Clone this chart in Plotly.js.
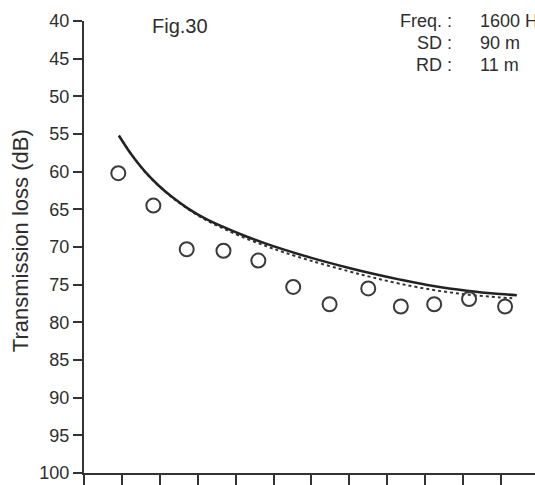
<!DOCTYPE html>
<html>
<head>
<meta charset="utf-8">
<script src="https://cdn.plot.ly/plotly-3.0.1.min.js"></script>
<style>html,body{margin:0;padding:0;background:#fff;}#chart{width:535px;height:485px;}</style>
</head>
<body>
<div id="chart"></div>
<script>
// Measured transmission loss (open circles)
var measRange = [0.905, 1.83, 2.71, 3.68, 4.60, 5.52, 6.48, 7.50, 8.36, 9.24, 10.16, 11.11];
var measTL    = [60.2, 64.5, 70.3, 70.5, 71.8, 75.3, 77.6, 75.5, 77.9, 77.6, 76.9, 77.9];

// Model curve 1 (solid)
var solidRange = [0.92, 1.26, 1.61, 1.96, 2.31, 2.75, 3.19, 3.63, 4.20, 4.80, 5.26, 6.00, 6.97, 7.60, 8.34, 9.22, 10.10, 10.98, 11.42];
var solidTL    = [55.2, 57.8, 60.0, 61.8, 63.3, 64.9, 66.2, 67.24, 68.44, 69.55, 70.32, 71.44, 72.75, 73.52, 74.33, 75.18, 75.8, 76.24, 76.4];

// Model curve 2 (dotted)
var dotRange = [0.92, 1.61, 2.31, 2.75, 3.19, 3.63, 4.20, 4.80, 5.26, 6.00, 6.97, 7.60, 8.34, 9.22, 10.10, 10.98, 11.30];
var dotTL    = [55.25, 60.03, 63.35, 64.98, 66.35, 67.44, 68.71, 69.87, 70.68, 71.84, 73.2, 74.02, 74.88, 75.7, 76.3, 76.7, 76.8];

var yTicks = [40, 45, 50, 55, 60, 65, 70, 75, 80, 85, 90, 95, 100];
var xTicks = [0, 1, 2, 3, 4, 5, 6, 7, 8, 9, 10, 11];

var yTitle = 'Transmission loss (dB)';
var figLabel = 'Fig.30';
var infoLabels = ['Freq. :', 'SD :', 'RD :'];
var infoValues = ['1600 Hz', '90 m', '11 m'];
var infoRows   = [40.05, 42.95, 45.9];

var font = 'Liberation Sans, Arial, Helvetica, sans-serif';
var ink = '#2e2e2e';

var traces = [
  {x: dotRange, y: dotTL, mode: 'lines', line: {color: '#333', width: 2, dash: 'dot', shape: 'spline'}, hoverinfo: 'skip'},
  {x: solidRange, y: solidTL, mode: 'lines', line: {color: '#222', width: 2.5, shape: 'spline'}, hoverinfo: 'skip'},
  {x: measRange, y: measTL, mode: 'markers', marker: {symbol: 'circle-open', size: 14, color: '#3a3a3a', line: {width: 2, color: '#3a3a3a'}}}
];

var annotations = [{
  x: 1.75, y: 40.6, xref: 'x', yref: 'y', text: figLabel, showarrow: false,
  xanchor: 'left', yanchor: 'middle', font: {family: font, size: 20, color: ink}
}, {
  x: -0.142, y: 0.515, xref: 'paper', yref: 'paper', text: yTitle, showarrow: false, textangle: -90,
  xanchor: 'center', yanchor: 'middle', font: {family: font, size: 22, color: ink}
}];
for (var i = 0; i < infoLabels.length; i++) {
  annotations.push({x: 9.75, y: infoRows[i], xref: 'x', yref: 'y', text: infoLabels[i], showarrow: false,
    xanchor: 'right', yanchor: 'middle', font: {family: font, size: 18, color: ink}});
  annotations.push({x: 10.39, y: infoRows[i], xref: 'x', yref: 'y', text: infoValues[i], showarrow: false,
    xanchor: 'left', yanchor: 'middle', font: {family: font, size: 18, color: ink}});
}

var layout = {
  width: 535, height: 485,
  margin: {l: 84, r: 0, t: 21, b: 12, pad: 0},
  paper_bgcolor: '#fff', plot_bgcolor: '#fff',
  showlegend: false,
  font: {family: font, color: ink},
  xaxis: {
    range: [0, 11.9], tickmode: 'array', tickvals: xTicks, showticklabels: false,
    ticks: 'outside', ticklen: 11, tickwidth: 2, tickcolor: '#333',
    showline: true, linecolor: '#333', linewidth: 2, showgrid: false, zeroline: false
  },
  yaxis: {
    range: [100, 40], tickmode: 'array', tickvals: yTicks,
    ticks: 'outside', ticklen: 9, tickwidth: 2, tickcolor: '#333',
    showline: true, linecolor: '#333', linewidth: 2, showgrid: false, zeroline: false,
    tickfont: {family: font, size: 18, color: ink}
  },
  annotations: annotations
};

Plotly.newPlot('chart', traces, layout, {displayModeBar: false, staticPlot: true});
</script>
</body>
</html>
